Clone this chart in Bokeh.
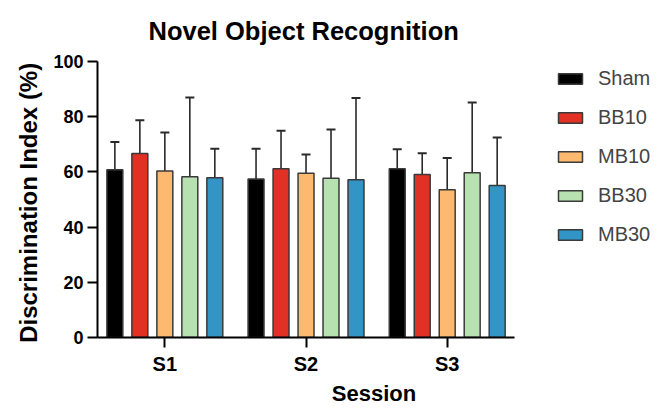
from bokeh.plotting import figure
from bokeh.models import (ColumnDataSource, Range1d, FixedTicker, Whisker, TeeHead, Legend)
from bokeh.transform import dodge
from bokeh.embed import file_html
from bokeh.resources import INLINE

# ---- data ----
sessions = ["S1", "S2", "S3"]
session_pos = [1, 2, 3]
groups = ["Sham", "BB10", "MB10", "BB30", "MB30"]
colors = ["#000000", "#E03124", "#FDB96F", "#B8E1B1", "#3394C6"]

sham_mean = [60.8, 57.4, 61.1]
sham_sd = [10.0, 11.0, 7.1]
bb10_mean = [66.7, 61.1, 59.1]
bb10_sd = [12.0, 13.8, 7.7]
mb10_mean = [60.3, 59.5, 53.5]
mb10_sd = [14.0, 6.8, 11.5]
bb30_mean = [58.2, 57.7, 59.7]
bb30_sd = [28.8, 17.7, 25.4]
mb30_mean = [57.9, 57.2, 55.1]
mb30_sd = [10.5, 29.6, 17.4]

y_ticks = [0, 20, 40, 60, 80, 100]

means = [sham_mean, bb10_mean, mb10_mean, bb30_mean, mb30_mean]
sds = [sham_sd, bb10_sd, mb10_sd, bb30_sd, mb30_sd]

FONT = "Liberation Sans"
pitch = 0.177
bar_w = 0.113
x_lo, x_hi = 0.523, 3.477

p = figure(width=656, height=408, output_backend="svg", toolbar_location=None,
           x_range=Range1d(x_lo, 4.44), y_range=Range1d(0, 100),
           min_border_left=97, min_border_right=6, min_border_top=61,
           min_border_bottom=71)

p.title.text = "Novel Object Recognition"
p.title.align = "left"
p.title.vertical_align = "top"
p.title.offset = 51
p.title.standoff = 30
p.title.text_font = FONT
p.title.text_font_size = "25.5px"
p.title.text_font_style = "bold"
p.title.text_color = "#000000"

renderers = []
for i, (g, c, m, s) in enumerate(zip(groups, colors, means, sds)):
    src = ColumnDataSource(dict(x=session_pos, mean=m,
                                upper=[a + b for a, b in zip(m, s)]))
    off = (i - 2) * pitch
    w = Whisker(source=src, base=dodge("x", off), upper="upper", lower="mean",
                dimension="height", line_color="#2a2a2a", line_width=1.6,
                lower_head=None,
                upper_head=TeeHead(size=9, line_color="#2a2a2a", line_width=2))
    p.add_layout(w)
    r = p.vbar(x=dodge("x", off), top="mean", width=bar_w, source=src,
               fill_color=c, line_color="#3a3a3a", line_width=1.5)
    renderers.append((g, [r]))

legend = Legend(items=renderers, location=(458, 91))
legend.label_text_font = FONT
legend.label_text_font_size = "20px"
legend.glyph_width = 30
legend.glyph_height = 13
legend.label_height = 20
legend.spacing = 16
legend.label_standoff = 13
legend.padding = 0
legend.margin = 0
legend.border_line_color = None
legend.background_fill_alpha = 0
p.add_layout(legend)

p.xgrid.grid_line_color = None
p.ygrid.grid_line_color = None
p.outline_line_color = None

for ax in (p.xaxis[0], p.yaxis[0]):
    ax.axis_line_width = 2
    ax.axis_line_color = "#000000"
    ax.major_tick_line_width = 2
    ax.major_tick_line_color = "#000000"
    ax.major_tick_in = 0
    ax.major_tick_out = 10
    ax.minor_tick_line_color = None
    ax.major_label_text_font = FONT
    ax.major_label_text_font_style = "bold"
    ax.major_label_text_color = "#000000"
    ax.axis_label_text_font = FONT
    ax.axis_label_text_font_style = "bold"
    ax.axis_label_text_color = "#000000"

p.yaxis.ticker = FixedTicker(ticks=y_ticks)
p.yaxis.major_label_text_font_size = "18px"
p.yaxis.major_label_standoff = 4
p.yaxis.axis_label = "Discrimination  Index (%)"
p.yaxis.axis_label_text_font_size = "24px"
p.yaxis.axis_label_standoff = 8

p.xaxis.bounds = (x_lo, x_hi)
p.xaxis.ticker = FixedTicker(ticks=session_pos)
p.xaxis.major_label_overrides = {pos: s for pos, s in zip(session_pos, sessions)}
p.xaxis.major_label_text_font_size = "20px"
p.xaxis.major_label_standoff = 5
p.xaxis.axis_label = "Session"
p.xaxis.axis_label_text_font_size = "22px"
p.xaxis.axis_label_standoff = 3

open("out.html", "w").write(file_html(p, INLINE))
